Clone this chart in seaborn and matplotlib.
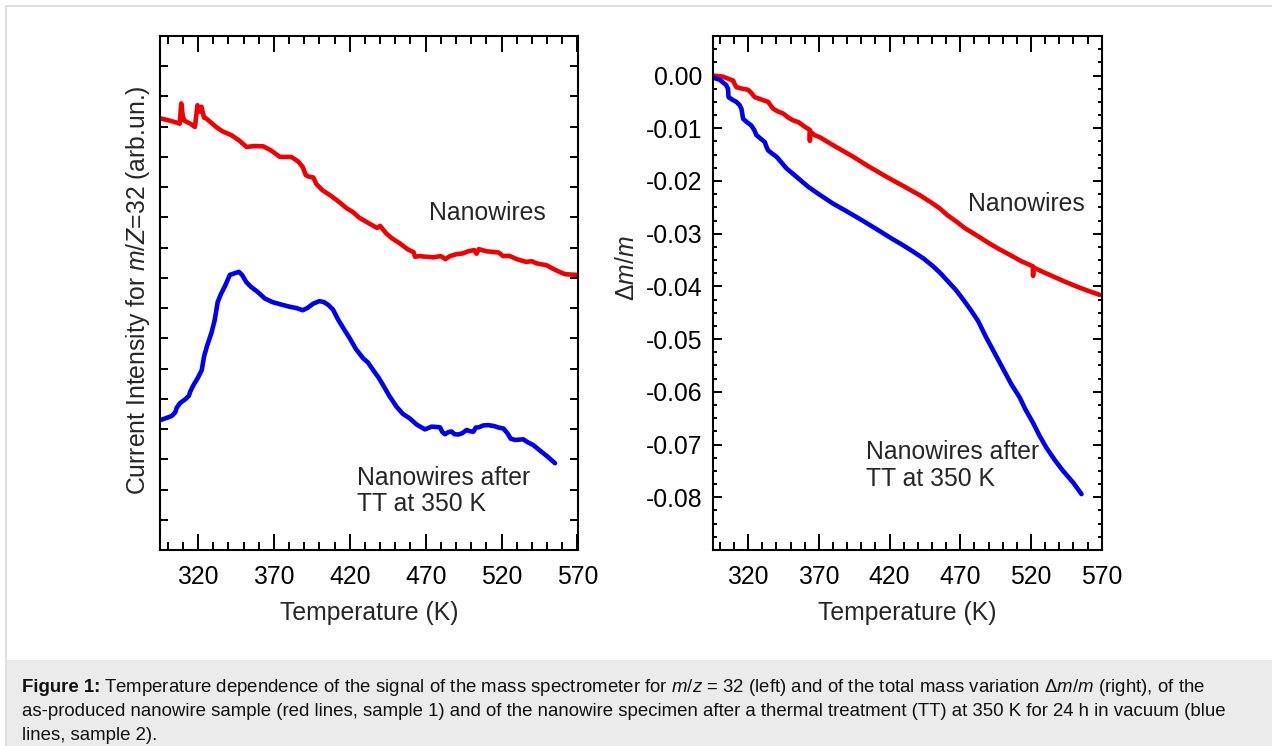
import matplotlib
matplotlib.use("Agg")
import matplotlib.pyplot as plt
import pandas as pd
import seaborn as sns
from matplotlib.lines import Line2D
from matplotlib.patches import Rectangle
from matplotlib.ticker import FormatStrFormatter

# ---- data ----
# left panel: mass spectrometer signal m/Z=32 (arb. units)
ms_red_T = [295.5, 300, 305, 308, 309, 310, 311, 315, 318, 319.7, 321, 322.3, 324, 325.5,
            332, 336, 342, 347, 352, 357, 363, 368, 374, 381.5, 386, 389, 391, 393, 396, 398,
            402, 408, 413, 418, 422, 426, 431, 438, 440, 444, 448, 453, 458, 462, 463, 466,
            470, 475, 480, 483, 486, 490, 494.5, 498, 502, 503.5, 505, 510, 514, 518, 521,
            525, 530, 536, 540, 543, 549.5, 554, 558, 562, 569.5]
ms_red = [14.27, 14.22, 14.15, 14.1, 14.77, 14.35, 14.2, 14.1, 13.99, 14.71, 14.5, 14.66, 14.3, 14.27,
          13.99, 13.85, 13.72, 13.55, 13.33, 13.36, 13.35, 13.22, 13.0, 13.0, 12.85, 12.67, 12.4, 12.35, 12.32, 12.1,
          11.9, 11.7, 11.51, 11.3, 11.18, 11.0, 10.85, 10.65, 10.72, 10.47, 10.3, 10.14, 9.95, 9.85, 9.7, 9.72,
          9.7, 9.68, 9.72, 9.62, 9.72, 9.78, 9.81, 9.88, 9.92, 9.8, 9.95, 9.88, 9.86, 9.84, 9.72,
          9.73, 9.62, 9.53, 9.55, 9.48, 9.42, 9.3, 9.2, 9.12, 9.1]

ms_blue_T = [295.5, 302.7, 305, 306, 308, 312, 314, 315, 317, 320, 322.5, 324, 326, 329, 331, 333,
             335, 338, 341, 344, 347, 349, 352, 355, 359, 364, 369, 374, 380, 385, 389, 392, 396,
             400, 403, 406, 409, 412, 415.6, 420, 424, 428.8, 432, 435.4, 439, 442, 446, 450.8,
             455, 459.6, 464, 469.5, 473.9, 479.4, 481, 482.7, 485, 487, 489, 491.5, 494, 497,
             499, 501.4, 503, 505, 508, 511.3, 515, 518, 521.2, 524, 526, 529, 534.3, 537, 540.9,
             545, 550, 555.2]
ms_blue = [4.3, 4.43, 4.55, 4.7, 4.85, 5.0, 5.1, 5.25, 5.45, 5.7, 5.95, 6.4, 6.75, 7.2, 7.6, 8.2,
           8.45, 8.75, 9.1, 9.15, 9.2, 9.1, 8.85, 8.7, 8.55, 8.32, 8.2, 8.13, 8.05, 8.0, 7.93, 8.0, 8.15,
           8.23, 8.2, 8.1, 7.95, 7.65, 7.35, 7.0, 6.65, 6.34, 6.2, 5.95, 5.7, 5.45, 5.1, 4.74,
           4.5, 4.35, 4.15, 3.99, 4.08, 4.06, 3.9, 3.83, 3.9, 3.92, 3.83, 3.82, 3.86, 3.97,
           3.93, 3.91, 4.05, 4.06, 4.12, 4.13, 4.1, 4.05, 4.02, 3.85, 3.68, 3.64, 3.66, 3.57, 3.47,
           3.3, 3.1, 2.87]

# right panel: total mass variation dm/m
dm_red_T = [295.2, 302, 309.4, 310.5, 311.7, 316, 320, 322, 324.7, 330, 334.2, 337.7, 341, 344.8,
            348, 351.8, 356, 360, 363.6, 363.7, 363.9, 367, 370.7, 380, 394.3, 405, 417.8, 430,
            441.4, 449, 455.5, 461, 467.3, 473, 479.1, 485, 490.9, 498, 505, 513, 521.4, 521.5,
            521.7, 528, 535.6, 544, 552.1, 560, 568.6]
dm_red = [0.0, -0.0002, -0.00095, -0.0016, -0.0022, -0.0025, -0.0027, -0.0032, -0.0041, -0.0046,
          -0.005, -0.0063, -0.0068, -0.0072, -0.0079, -0.0085, -0.0089, -0.0097, -0.0103, -0.0124,
          -0.0106, -0.0113, -0.0117, -0.0132, -0.0154, -0.0172, -0.0192, -0.021, -0.0227, -0.024,
          -0.0252, -0.0265, -0.0277, -0.0289, -0.0299, -0.0309, -0.0319, -0.033, -0.034, -0.0352,
          -0.0362, -0.038, -0.0364, -0.0372, -0.0381, -0.0391, -0.04, -0.0408, -0.0416]

dm_blue_T = [295.2, 300, 302.2, 304.5, 305.8, 306.2, 309, 311.7, 314, 315.3, 316.5, 319, 322.4,
             324.5, 325.9, 329, 331.8, 333, 334.2, 337, 340.1, 343, 347.1, 354.2, 362.5, 370,
             380.1, 390, 400.2, 410, 421.4, 429, 436.7, 444, 450.9, 456, 461.5, 467, 472.1,
             477.5, 482.7, 488, 493, 500, 506, 512.1, 516, 521.5, 526, 530.9, 537, 542.7,
             549.8, 555.7]
dm_blue = [-0.0004, -0.0008, -0.0013, -0.0018, -0.0025, -0.0041, -0.0046, -0.005, -0.0056, -0.0063,
           -0.0082, -0.0088, -0.0095, -0.0104, -0.0113, -0.012, -0.0126, -0.0135, -0.0142, -0.0148,
           -0.0154, -0.0163, -0.0176, -0.0192, -0.0211, -0.0225, -0.0243, -0.0258, -0.0274, -0.029,
           -0.0309, -0.0321, -0.0334, -0.0347, -0.0362, -0.0375, -0.0391, -0.0407, -0.0425,
           -0.0445, -0.0466, -0.0495, -0.052, -0.0555, -0.0585, -0.0611, -0.0633, -0.0659, -0.0683,
           -0.0706, -0.073, -0.075, -0.0772, -0.0794]

x_major = [320, 370, 420, 470, 520, 570]
dm_major = [0.0, -0.01, -0.02, -0.03, -0.04, -0.05, -0.06, -0.07, -0.08]

caption = [
    "Temperature dependence of the signal of the mass spectrometer for $m/z$ = 32 (left) "
    "and of the total mass variation \u0394$m/m$ (right), of the",
    "as-produced nanowire sample (red lines, sample 1) and of the nanowire specimen after a "
    "thermal treatment (TT) at 350 K for 24 h in vacuum (blue",
    "lines, sample 2).",
]

RED = "#f00000"
BLUE = "#0000f0"
FS = 17.8


def make_df(tr, vr, tb, vb):
    a = pd.DataFrame({"T": tr, "val": vr, "sample": "Nanowires"})
    b = pd.DataFrame({"T": tb, "val": vb, "sample": "Nanowires after TT"})
    return pd.concat([a, b], ignore_index=True)


def style_axes(ax):
    for s in ax.spines.values():
        s.set_linewidth(1.5)
        s.set_color("black")
    ax.set_xlim(295, 570)
    ax.set_xticks(x_major)
    ax.set_xticks(range(300, 570, 10), minor=True)
    ax.tick_params(axis="both", which="both", direction="in", top=True, right=True,
                   width=1.4, colors="black", labelsize=FS, pad=7.5)
    ax.tick_params(axis="x", which="major", length=11.5, pad=10.5)
    ax.tick_params(axis="x", which="minor", length=5.8)
    ax.set_xlabel("Temperature (K)", fontsize=FS, labelpad=9)
    ax.grid(False)


sns.set_style("ticks")
plt.rcParams["font.family"] = ["Liberation Sans", "DejaVu Sans"]
plt.rcParams["mathtext.fontset"] = "custom"
plt.rcParams["mathtext.rm"] = "Liberation Sans"
plt.rcParams["mathtext.it"] = "Liberation Sans:italic"
plt.rcParams["mathtext.bf"] = "Liberation Sans:bold"
plt.rcParams["axes.unicode_minus"] = False

fig = plt.figure(figsize=(12.72, 7.46), dpi=100)
W, H = 1272, 746

# page frame and caption box
fig.patches.append(Rectangle((6 / W, 0), 1 - 6 / W, 1 - 660 / H, transform=fig.transFigure,
                             facecolor="#ebebeb", edgecolor="none", zorder=0))
fig.lines.append(Line2D([6 / W, 1], [1 - 6 / H, 1 - 6 / H], transform=fig.transFigure,
                        color="#dedede", lw=1.4))
fig.lines.append(Line2D([6 / W, 6 / W], [0, 1 - 6 / H], transform=fig.transFigure,
                        color="#dedede", lw=1.4))

ax1 = fig.add_axes([160 / W, 1 - 550 / H, 417.5 / W, 514 / H])
ax2 = fig.add_axes([712.7 / W, 1 - 550 / H, 389 / W, 514 / H])

pal = {"Nanowires": RED, "Nanowires after TT": BLUE}

sns.lineplot(data=make_df(ms_red_T, ms_red, ms_blue_T, ms_blue), x="T", y="val", hue="sample",
             palette=pal, estimator=None, sort=False, legend=False, lw=3.3, ax=ax1)
sns.lineplot(data=make_df(dm_red_T, dm_red, dm_blue_T, dm_blue), x="T", y="val", hue="sample",
             palette=pal, estimator=None, sort=False, legend=False, lw=3.3, ax=ax2)

# left panel
style_axes(ax1)
ax1.set_ylim(0, 17)
ax1.set_yticks(range(1, 17))
ax1.tick_params(axis="y", which="major", length=5.8, labelleft=False)
ax1.set_ylabel("Current Intensity for $m/Z$=32 (arb.un.)", fontsize=FS)
ax1.yaxis.set_label_coords(-0.02, 0.506)
ax1.text(510.8, 11.14, "Nanowires", fontsize=FS, ha="center", va="center")
ax1.text(424.5, 1.95, "Nanowires after\nTT at 350 K", fontsize=FS, ha="left", va="center",
         linespacing=1.15)

# right panel
style_axes(ax2)
ax2.set_ylim(-0.09, 0.0075)
ax2.set_yticks(dm_major)
ax2.set_yticks([-0.09 + 0.0025 * i for i in range(40)], minor=True)
ax2.yaxis.set_major_formatter(FormatStrFormatter("%.2f"))
ax2.tick_params(axis="y", which="major", length=6.2)
ax2.tick_params(axis="y", which="minor", length=3.0)
ax2.set_ylabel("\u0394$m/m$", fontsize=FS)
ax2.yaxis.set_label_coords(-0.19, 0.549)
ax2.text(516.4, -0.0244, "Nanowires", fontsize=FS, ha="center", va="center")
ax2.text(403.7, -0.0739, "Nanowires after\nTT at 350 K", fontsize=FS, ha="left", va="center",
         linespacing=1.15)

# caption
line_y = [688, 712, 735]
renderer = fig.canvas.get_renderer()
bold = fig.text(21.7 / W, 1 - line_y[0] / H, "Figure 1:", fontsize=13.4, fontweight="bold",
                color="#111111", ha="left", va="center")
bw = bold.get_window_extent(renderer=renderer).width
fig.text((21.7 + bw + 4) / W, 1 - line_y[0] / H, caption[0], fontsize=13.4, color="#111111",
         ha="left", va="center")
for txt, y in zip(caption[1:], line_y[1:]):
    fig.text(21.7 / W, 1 - y / H, txt, fontsize=13.4, color="#111111", ha="left", va="center")

fig.savefig("out.png", dpi=100)
plt.close(fig)
